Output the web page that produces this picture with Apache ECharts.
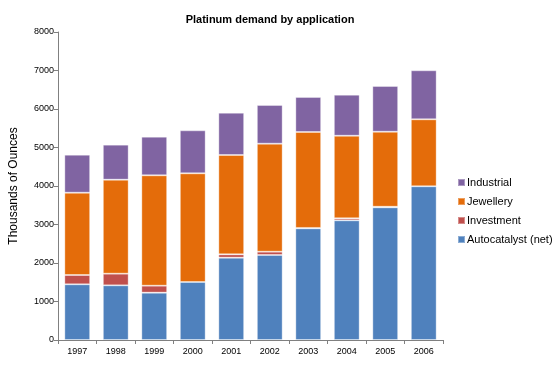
<!DOCTYPE html>
<html><head><meta charset="utf-8">
<script src="https://cdn.jsdelivr.net/npm/echarts@6/dist/echarts.min.js"></script>
<style>html,body{margin:0;padding:0;background:#fff}#c{width:556px;height:372px}</style>
</head><body><div id="c"></div>
<script>
var years = ['1997','1998','1999','2000','2001','2002','2003','2004','2005','2006'];
var autocatalyst = [1447, 1420, 1230, 1506, 2138, 2208, 2900, 3108, 3446, 3992];
var investment = [241, 303, 181, -70, 87, 86, 10, 52, 15, -40];
var jewellery = [2138, 2441, 2866, 2823, 2580, 2806, 2493, 2146, 1949, 1740];
var industrial = [988, 909, 1004, 1117, 1099, 1004, 909, 1066, 1187, 1273];
var yTicks = {min: 0, max: 8000, interval: 1000};

var chart = echarts.init(document.getElementById('c'));
var font = 'Liberation Sans, Arial, sans-serif';
function s(name, data, color) {
  return {name: name, type: 'bar', stack: 'total', data: data, barCategoryGap: '33%',
    itemStyle: {color: color, borderColor: 'rgba(255,255,255,0.35)', borderWidth: 1},
    emphasis: {disabled: true}};
}
chart.setOption({
  animation: false,
  textStyle: {fontFamily: font},
  title: {text: 'Platinum demand by application', left: 265, textAlign: 'center', top: 9,
    textStyle: {fontFamily: font, fontSize: 11, fontWeight: 'bold', color: '#000'}},
  legend: {orient: 'vertical', left: 452, top: 172, itemWidth: 7, itemHeight: 7, itemGap: 8,
    data: ['Industrial', 'Jewellery', 'Investment', 'Autocatalyst (net)'],
    textStyle: {fontFamily: font, fontSize: 11, color: '#000', padding: [0, 0, 0, -3]},
    icon: 'rect'},
  grid: {left: 58, right: 113, top: 32, bottom: 32, containLabel: false},
  xAxis: {type: 'category', data: years, z: 1,
    axisLine: {lineStyle: {color: '#808080'}},
    axisTick: {show: true, length: 4, lineStyle: {color: '#808080'}},
    axisLabel: {fontFamily: font, fontSize: 9, color: '#000', margin: 7}},
  yAxis: {type: 'value', min: yTicks.min, max: yTicks.max, interval: yTicks.interval,
    name: 'Thousands of Ounces', nameLocation: 'middle', nameGap: 38,
    nameTextStyle: {fontFamily: font, fontSize: 12, color: '#000'},
    splitLine: {show: false},
    axisLine: {show: true, lineStyle: {color: '#808080'}},
    axisTick: {show: true, length: 4, lineStyle: {color: '#808080'}},
    axisLabel: {fontFamily: font, fontSize: 9, color: '#000', margin: 4,
      formatter: function (v) { return String(v); }}},
  series: [
    s('Autocatalyst (net)', autocatalyst, '#4F81BD'),
    s('Investment', investment, '#C0504D'),
    s('Jewellery', jewellery, '#E46C0A'),
    s('Industrial', industrial, '#8064A2')
  ]
});
</script></body></html>
